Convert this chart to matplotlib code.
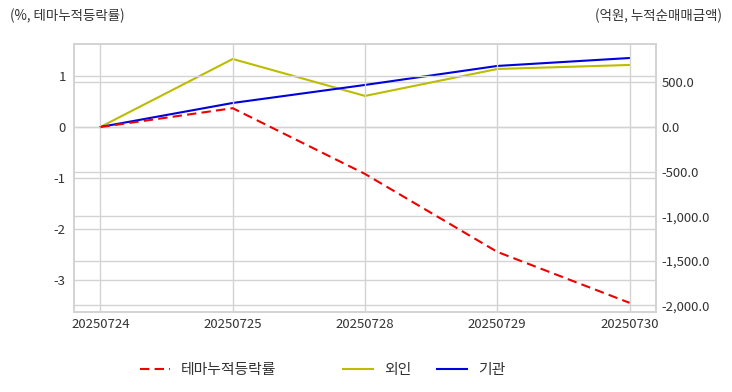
import matplotlib
matplotlib.use('Agg')
import matplotlib.pyplot as plt
import numpy as np

plt.rcParams['font.family'] = ['Noto Sans CJK KR', 'DejaVu Sans']
plt.rcParams['axes.unicode_minus'] = False

dates = ['20250724', '20250725', '20250728', '20250729', '20250730']
theme_rate = [0.0, 0.37, -0.92, -2.45, -3.45]   # % (left axis)
foreign = [0.0, 762.0, 348.0, 650.0, 695.0]       # 억원 (right axis)
institution = [0.0, 269.0, 471.0, 684.0, 773.0]   # 억원 (right axis)

grid_c = '#d3d3d3'
txt_c = '#333333'

fig = plt.figure(figsize=(7.32, 3.92), dpi=100)
ax = fig.add_axes([74 / 732, 1 - 312 / 392, (656 - 74) / 732, (312 - 44) / 392])
ax2 = ax.twinx()

x = np.arange(len(dates))

l1, = ax.plot(x, theme_rate, color='#ee0000', lw=1.5, ls=(0, (4.5, 2.5)), label='테마누적등락률')
l2, = ax2.plot(x, foreign, color='#bcbc00', lw=1.5, label='외인')
l3, = ax2.plot(x, institution, color='#0000dd', lw=1.5, label='기관')

ax.set_xlim(-0.2, 4.2)
ax.set_ylim(-3.63, 1.63)
ax2.set_ylim(-2074, 930)

ax.set_xticks(x)
ax.set_xticklabels(dates)
ax.set_yticks([1, 0, -1, -2, -3])
ax2.set_yticks([500, 0, -500, -1000, -1500, -2000])
ax2.set_yticklabels([f'{v:,.1f}' for v in [500, 0, -500, -1000, -1500, -2000]])

ax.grid(True, color=grid_c, lw=1)
ax2.grid(True, axis='y', color=grid_c, lw=1)
ax.set_axisbelow(True)
ax2.set_zorder(ax.get_zorder() - 1)
ax.patch.set_visible(False)

for a in (ax, ax2):
    for s in a.spines.values():
        s.set_color(grid_c)
        s.set_linewidth(1.2)
    a.tick_params(length=0, colors=txt_c, labelsize=9.5)
ax.tick_params(axis='y', pad=6)
ax2.tick_params(axis='y', pad=4)
ax.tick_params(axis='x', pad=4)

fig.text(10 / 732, 1 - 16 / 392, '(%, 테마누적등락률)', fontsize=9.7, color=txt_c, va='center', ha='left')
fig.text(722 / 732, 1 - 16 / 392, '(억원, 누적순매매금액)', fontsize=9.7, color=txt_c, va='center', ha='right')

# legend entries placed one by one to match the reference spacing
for h, xpos in zip([l1, l2, l3], [140, 343, 437]):
    leg = fig.legend(handles=[h], loc='center left', bbox_to_anchor=(xpos / 732, 1 - 370 / 392),
                     frameon=False, fontsize=10.7, handlelength=2.05, handletextpad=0.7,
                     borderpad=0, borderaxespad=0, labelcolor=txt_c)

fig.savefig('out.png', dpi=100)
